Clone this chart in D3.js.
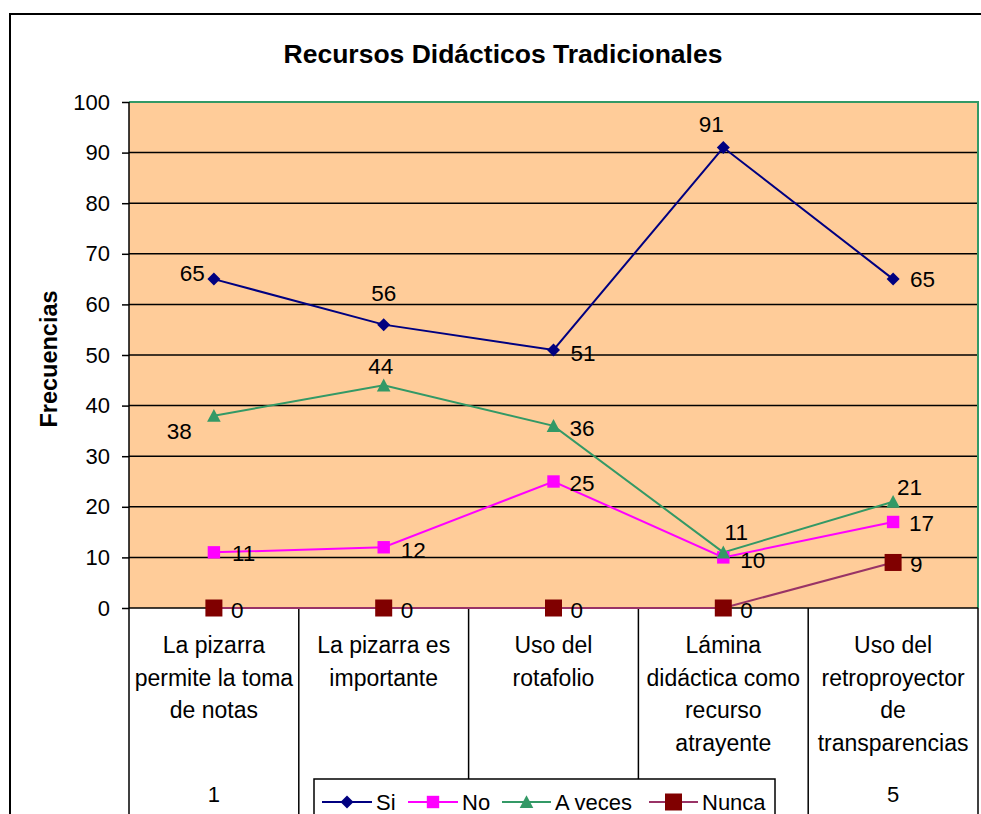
<!DOCTYPE html>
<html><head><meta charset="utf-8">
<script src="https://cdn.jsdelivr.net/npm/d3@7"></script>
<style>body{margin:0;background:#fff}svg{display:block;font-family:Arial,"Liberation Sans",sans-serif}</style>
</head><body><svg id="c" width="981" height="814"></svg>
<script>
const categories = ["La pizarra\npermite la toma\nde notas","La pizarra es\nimportante","Uso del\nrotafolio","Lámina\ndidáctica como\nrecurso\natrayente","Uso del\nretroproyector\nde\ntransparencias"];
const categoryNumbers = ["1","2","3","4","5"];
const seriesNames = ["Si","No","A veces","Nunca"];
const siValues = [65,56,51,91,65];
const noValues = [11,12,25,10,17];
const aVecesValues = [38,44,36,11,21];
const nuncaValues = [0,0,0,0,9];
const yTicks = [0,10,20,30,40,50,60,70,80,90,100];

const svg = d3.select("#c");
const L = 129, R = 978, T = 102, B = 608;
const x = d3.scaleBand().domain(d3.range(5)).range([L,R]);
const y = d3.scaleLinear().domain([0,100]).range([B,T]);
const cx = i => x(i) + x.bandwidth()/2;
const legBox = {x:314, y:779, w:461};

// outer frame
svg.append("rect").attr("x",10).attr("y",14).attr("width",1000).attr("height",900)
  .attr("fill","#fff").attr("stroke","#000").attr("stroke-width",2);

// title
svg.append("text").attr("x",503).attr("y",63).attr("text-anchor","middle")
  .attr("font-size",26.5).attr("font-weight","bold").text("Recursos Didácticos Tradicionales");

// plot area
svg.append("rect").attr("x",L).attr("y",T).attr("width",R-L).attr("height",B-T).attr("fill","#FFCC99");
svg.append("g").selectAll("line").data(yTicks.filter(d=>d>0&&d<100)).join("line")
  .attr("x1",L).attr("x2",R).attr("y1",d=>y(d)).attr("y2",d=>y(d)).attr("stroke","#000").attr("stroke-width",1.5);
svg.append("path").attr("d",`M${L},${y(100)}H${R}V${B}`).attr("fill","none").attr("stroke","#339966").attr("stroke-width",2);

// y axis
const ya = svg.append("g").attr("transform",`translate(${L},0)`)
  .call(d3.axisLeft(y).tickValues(yTicks).tickSize(7).tickPadding(12));
ya.select(".domain").remove();
ya.selectAll("line").attr("stroke","#000").attr("stroke-width",1.5);
ya.selectAll("text").attr("font-size",22).attr("font-family","Arial, Liberation Sans").attr("fill","#000");
svg.append("line").attr("x1",L).attr("x2",L).attr("y1",T).attr("y2",B).attr("stroke","#000").attr("stroke-width",1.5);

// y label
svg.append("text").attr("transform","translate(57,359) rotate(-90)").attr("text-anchor","middle")
  .attr("font-size",23.5).attr("font-weight","bold").text("Frecuencias");

// x axis baseline + separators
svg.append("line").attr("x1",L).attr("x2",R).attr("y1",B).attr("y2",B).attr("stroke","#000").attr("stroke-width",1.5);
const seps = d3.range(6).map(i => i<5 ? x(i) : R);
svg.append("g").selectAll("line").data(seps).join("line")
  .attr("x1",d=>d).attr("x2",d=>d).attr("y1",B).attr("y2",830).attr("stroke","#000").attr("stroke-width",1.5);

// category labels
categories.forEach((c,i)=>{
  const t = svg.append("text").attr("text-anchor","middle").attr("font-size",23).attr("x",cx(i)).attr("y",653);
  c.split("\n").forEach((ln,k)=>t.append("tspan").attr("x",cx(i)).attr("dy",k?32.6:0).text(ln));
  // numbers hidden behind the legend are not drawn
  if (cx(i) < legBox.x || cx(i) > legBox.x + legBox.w)
    svg.append("text").attr("text-anchor","middle").attr("font-size",22).attr("x",cx(i)).attr("y",802).text(categoryNumbers[i]);
});

// series
const series = [
  {name:seriesNames[0], vals:siValues, line:"#000080", fill:"#000080", marker:"diamond", ms:6.5},
  {name:seriesNames[1], vals:noValues, line:"#FF00FF", fill:"#FF00FF", marker:"square", ms:6.2},
  {name:seriesNames[2], vals:aVecesValues, line:"#339966", fill:"#339966", marker:"triangle", ms:6.8},
  {name:seriesNames[3], vals:nuncaValues, line:"#993366", fill:"#800000", marker:"square", ms:8.5}
];
// label placement offsets (style): [dx, dy, anchor]
const labelPlace = [
  [[-9,-6,"end"],[0,-32,"middle"],[17,3,"start"],[-12,-23,"middle"],[17,0,"start"]],
  [[18,1,"start"],[17,3,"start"],[16,2,"start"],[17,3,"start"],[16,1,"start"]],
  [[-22,15,"end"],[-3,-19,"middle"],[16,2,"start"],[13,-20,"middle"],[4,-15,"start"]],
  [[17,2,"start"],[17,2,"start"],[17,2,"start"],[17,2,"start"],[17,2,"start"]]
];
function marker(g, type, s, fill){
  if(type==="diamond") return g.append("path").attr("d",`M0,${-s}L${s},0L0,${s}L${-s},0Z`).attr("fill",fill);
  if(type==="square") return g.append("rect").attr("x",-s).attr("y",-s).attr("width",2*s).attr("height",2*s).attr("fill",fill);
  if(type==="triangle") return g.append("path").attr("d",`M0,${-s}L${s},${s*0.9}L${-s},${s*0.9}Z`).attr("fill",fill);
}
const lineGen = d3.line().x((d,i)=>cx(i)).y(d=>y(d));
[3,1,2,0].forEach(si=>{
  const s = series[si];
  svg.append("path").datum(s.vals).attr("d",lineGen).attr("fill","none").attr("stroke",s.line).attr("stroke-width",2);
});
[3,1,2,0].forEach(si=>{
  const s = series[si];
  s.vals.forEach((v,i)=>{
    const g = svg.append("g").attr("transform",`translate(${cx(i)},${y(v)})`);
    marker(g, s.marker, s.ms, s.fill);
  });
});
series.forEach((s,si)=>{
  s.vals.forEach((v,i)=>{
    const p = labelPlace[si][i];
    svg.append("text").attr("x",cx(i)+p[0]).attr("y",y(v)+p[1]).attr("dy","0.35em")
      .attr("text-anchor",p[2]).attr("font-size",22.5).text(v);
  });
});

// legend
const lg = svg.append("g");
lg.append("rect").attr("x",legBox.x).attr("y",legBox.y).attr("width",legBox.w).attr("height",60).attr("fill","#fff").attr("stroke","#000").attr("stroke-width",1.5);
const legX = [322,408,502,649];
const legW = [50,50,49,49];
series.forEach((s,i)=>{
  const ly = 802;
  lg.append("line").attr("x1",legX[i]).attr("x2",legX[i]+legW[i]).attr("y1",ly).attr("y2",ly).attr("stroke",s.line).attr("stroke-width",2);
  const g = lg.append("g").attr("transform",`translate(${legX[i]+legW[i]/2},${ly})`);
  marker(g, s.marker, s.ms, s.fill);
  lg.append("text").attr("x",legX[i]+legW[i]+4).attr("y",ly).attr("dy","0.35em").attr("font-size",22).text(s.name);
});
</script></body></html>
